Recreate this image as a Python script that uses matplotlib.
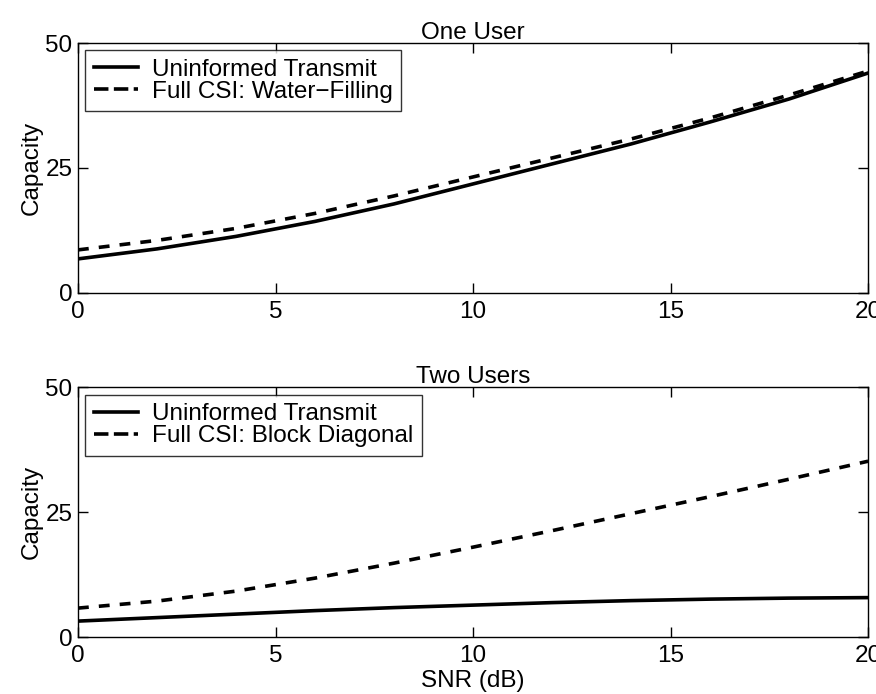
import matplotlib.pyplot as plt
from matplotlib.lines import Line2D

plt.rcParams['font.family'] = ['Liberation Sans', 'DejaVu Sans']

# SNR points (dB) and capacities
snr = [0, 2, 4, 6, 8, 10, 12, 14, 16, 18, 20]

one_uninformed = [6.8, 8.8, 11.3, 14.3, 17.8, 21.8, 25.8, 29.8, 34.2, 38.8, 44.0]
one_waterfill = [8.6, 10.5, 12.9, 15.9, 19.4, 23.2, 27.0, 30.8, 35.0, 39.6, 44.4]

two_uninformed = [3.2, 3.9, 4.6, 5.3, 5.9, 6.4, 6.9, 7.3, 7.6, 7.8, 7.9]
two_blockdiag = [5.8, 7.2, 9.2, 11.8, 14.8, 18.0, 21.3, 24.7, 28.1, 31.6, 35.2]

titles = ['One User', 'Two Users']
legend_full = ['Full CSI: Water\u2212Filling', 'Full CSI: Block Diagonal']

fig = plt.figure(figsize=(8.76, 6.94), dpi=100)
ax1 = fig.add_axes([0.089, 0.578, 0.902, 0.360])
ax2 = fig.add_axes([0.089, 0.082, 0.902, 0.360])

series = [(one_uninformed, one_waterfill), (two_uninformed, two_blockdiag)]
LW = 2.6
FS = 17.5

for ax, (solid, dashed), title, lab in zip([ax1, ax2], series, titles, legend_full):
    ax.plot(snr, solid, color='black', lw=LW)
    ax.plot(snr, dashed, color='black', lw=LW, linestyle=(0, (3.0, 2.8)))
    ax.set_xlim(0, 20)
    ax.set_ylim(0, 50)
    ax.set_xticks([0, 5, 10, 15, 20])
    ax.set_yticks([0, 25, 50])
    ax.tick_params(direction='in', top=True, right=True, length=7, width=1,
                   labelsize=FS)
    ax.tick_params(axis='x', pad=6)
    ax.tick_params(axis='y', pad=4)
    ax.set_title(title, fontsize=FS, pad=3)
    ax.set_ylabel('Capacity', fontsize=FS, labelpad=2)
    for s in ax.spines.values():
        s.set_linewidth(1.0)
    # legend handles: MATLAB draws shorter gaps in the legend sample
    handles = [Line2D([], [], color='black', lw=LW),
               Line2D([], [], color='black', lw=LW, linestyle=(0, (4.0, 1.5)))]
    leg = ax.legend(handles, ['Uninformed Transmit', lab], loc='upper left',
                    fontsize=FS, frameon=True, fancybox=False,
                    borderaxespad=0.3, handlelength=1.8, handletextpad=0.6,
                    borderpad=0.35, labelspacing=0.0)
    leg.get_frame().set_edgecolor('black')
    leg.get_frame().set_linewidth(1.0)

ax2.set_xlabel('SNR (dB)', fontsize=FS, labelpad=2)

fig.savefig('out.png', dpi=100)
